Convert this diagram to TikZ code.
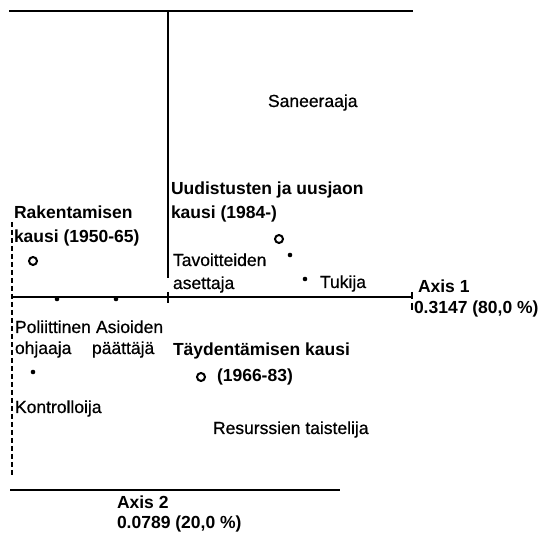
\documentclass[tikz,border=0pt]{standalone}
\usepackage{fontspec}
\setmainfont{Liberation Sans}
\newfontfamily\regfont[FakeBold=0.6]{Liberation Sans}
\begin{document}
\begin{tikzpicture}[x=1pt,y=-1pt,
  lbl/.style={inner sep=0pt, outer sep=0pt, anchor=base west, font=\regfont\fontsize{17.5}{21}\selectfont},
  blbl/.style={lbl, font=\fontsize{17.5}{21}\selectfont\bfseries},
  frameline/.style={line width=2.8pt},
  vline/.style={line width=1.8pt},
  axisline/.style={line width=1.8pt},
  tickline/.style={line width=1.6pt},
  dashline/.style={line width=2.6pt, dash pattern=on 5pt off 3pt},
  opendot/.style={circle, draw, line width=2pt, minimum size=8pt, inner sep=0pt},
  filldot/.style={circle, fill, minimum size=4.6pt, inner sep=0pt}]
\useasboundingbox (0,0) rectangle (542,534);
% frame lines and axes
\coordinate (TL) at (9,11); \coordinate (TR) at (413,11);
\draw[frameline] (TL) -- (TR);
\coordinate (VT) at (168,11); \coordinate (VB) at (168,278);
\draw[vline] (VT) -- (VB);
\coordinate (A1L) at (12,297); \coordinate (A1R) at (412,297);
\draw[axisline] (A1L) -- (A1R);
\coordinate (C0t) at (168,292); \coordinate (C0b) at (168,303);
\draw[tickline] (C0t) -- (C0b);
\coordinate (E1t) at (412,292); \coordinate (E1b) at (412,299);
\draw[tickline] (E1t) -- (E1b);
\coordinate (E2t) at (412,303); \coordinate (E2b) at (412,310);
\draw[tickline] (E2t) -- (E2b);
\coordinate (DT) at (12,222); \coordinate (DB) at (12,476);
\draw[dashline] (DT) -- (DB);
\coordinate (BL) at (10,490); \coordinate (BR) at (340,490);
\draw[frameline] (BL) -- (BR);
% points
\node[filldot] (ax1) at (57,299) {};
\node[filldot] (ax2) at (116,299) {};
\node[opendot] (pR) at (33,261) {};
\node[opendot] (pU) at (279,239) {};
\node[filldot] (pTa) at (290,255) {};
\node[filldot] (pTu) at (305,279) {};
\node[filldot] (pPo) at (33,372) {};
\node[opendot] (pT) at (201,377) {};
% labels
\node[lbl] (san) at (268,107) {Saneeraaja};
\node[blbl] (uud1) at (171,195) {Uudistusten ja uusjaon};
\node[blbl] (uud2) at (171,219) {kausi (1984-)};
\node[blbl] (rak1) at (14,219) {Rakentamisen};
\node[blbl] (rak2) at (14,243) {kausi (1950-65)};
\node[lbl] (tav1) at (173,266) {Tavoitteiden};
\node[lbl] (tav2) at (173,289) {asettaja};
\node[lbl] (tuk) at (320,288) {Tukija};
\node[blbl] (axA) at (418,293) {Axis 1};
\node[blbl] (axAv) at (414,314) {0.3147 (80,0 \%)};
\node[lbl] (pol1) at (15,333) {Poliittinen};
\node[lbl] (pol2) at (15,354) {ohjaaja};
\node[lbl] (asi1) at (96,333) {Asioiden};
\node[lbl] (asi2) at (92,354) {päättäjä};
\node[blbl] (tay1) at (173,356) {Täydentämisen kausi};
\node[blbl] (tay2) at (217,382) {(1966-83)};
\node[lbl] (kon) at (15,413) {Kontrolloija};
\node[lbl] (res) at (213,434) {Resurssien taistelija};
\node[blbl] (axB) at (117,509) {Axis 2};
\node[blbl] (axBv) at (117,529) {0.0789 (20,0 \%)};
\end{tikzpicture}
\end{document}
